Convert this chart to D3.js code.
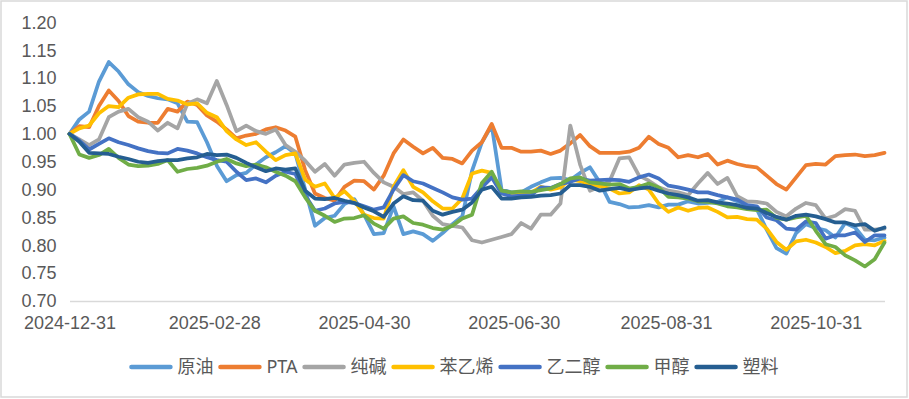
<!DOCTYPE html>
<html>
<head>
<meta charset="utf-8">
<script src="https://cdn.jsdelivr.net/npm/d3@7"></script>
<style>
  body { margin: 0; background: #fff; }
  svg { display: block; font-family: "Noto Sans", "Noto Sans CJK SC", sans-serif; }
</style>
</head>
<body>
<div id="chart"></div>
<script>
// dates (every 4 days)
const dates = [
  "2024-12-31","2025-01-04","2025-01-08","2025-01-12","2025-01-16","2025-01-20","2025-01-24","2025-01-28","2025-02-01","2025-02-05",
  "2025-02-09","2025-02-13","2025-02-17","2025-02-21","2025-02-25","2025-03-01","2025-03-05","2025-03-09","2025-03-13","2025-03-17",
  "2025-03-21","2025-03-25","2025-03-29","2025-04-02","2025-04-06","2025-04-10","2025-04-14","2025-04-18","2025-04-22","2025-04-26",
  "2025-04-30","2025-05-04","2025-05-08","2025-05-12","2025-05-16","2025-05-20","2025-05-24","2025-05-28","2025-06-01","2025-06-05",
  "2025-06-09","2025-06-13","2025-06-17","2025-06-21","2025-06-25","2025-06-29","2025-07-03","2025-07-07","2025-07-11","2025-07-15",
  "2025-07-19","2025-07-23","2025-07-27","2025-07-31","2025-08-04","2025-08-08","2025-08-12","2025-08-16","2025-08-20","2025-08-24",
  "2025-08-28","2025-09-01","2025-09-05","2025-09-09","2025-09-13","2025-09-17","2025-09-21","2025-09-25","2025-09-29","2025-10-03",
  "2025-10-07","2025-10-11","2025-10-15","2025-10-19","2025-10-23","2025-10-27","2025-10-31","2025-11-04","2025-11-08","2025-11-12",
  "2025-11-16","2025-11-20","2025-11-24","2025-11-28"
];

const crude = [1.00,1.026,1.040,1.094,1.129,1.112,1.089,1.075,1.068,1.064,
  1.062,1.055,1.022,1.021,0.985,0.943,0.915,0.926,0.930,0.945,
  0.958,0.967,0.978,0.965,0.900,0.835,0.849,0.853,0.874,0.883,
  0.855,0.820,0.822,0.870,0.820,0.825,0.820,0.808,0.822,0.838,
  0.852,0.934,0.985,1.015,0.900,0.895,0.895,0.905,0.913,0.920,
  0.921,0.917,0.930,0.940,0.913,0.878,0.874,0.868,0.869,0.872,
  0.868,0.873,0.873,0.879,0.875,0.876,0.878,0.886,0.879,0.872,
  0.865,0.828,0.795,0.785,0.822,0.838,0.831,0.827,0.814,0.840,
  0.832,0.810,0.809,0.814];

const pta = [1.00,1.014,1.012,1.050,1.078,1.059,1.032,1.022,1.020,1.020,
  1.045,1.040,1.058,1.052,1.033,1.022,1.008,0.992,0.997,1.000,
  1.008,1.012,1.006,0.995,0.935,0.893,0.885,0.880,0.905,0.916,
  0.915,0.900,0.925,0.965,0.990,0.977,0.965,0.975,0.957,0.955,
  0.947,0.970,0.985,1.018,0.975,0.975,0.968,0.968,0.970,0.964,
  0.970,0.983,0.998,0.978,0.966,0.966,0.966,0.968,0.975,0.995,
  0.982,0.975,0.958,0.962,0.958,0.964,0.945,0.952,0.946,0.942,
  0.940,0.925,0.910,0.900,0.922,0.944,0.946,0.945,0.960,0.962,
  0.963,0.960,0.962,0.966];

const sodaAsh = [1.00,0.990,0.980,0.990,1.030,1.040,1.045,1.030,1.022,1.006,
  1.020,1.010,1.054,1.062,1.055,1.095,1.052,1.005,1.015,1.005,
  1.000,1.008,0.980,0.968,0.952,0.932,0.946,0.925,0.945,0.948,
  0.950,0.930,0.913,0.905,0.892,0.895,0.880,0.853,0.838,0.835,
  0.832,0.809,0.805,0.810,0.815,0.820,0.840,0.830,0.855,0.855,
  0.875,1.015,0.945,0.898,0.905,0.915,0.956,0.958,0.925,0.916,
  0.904,0.898,0.895,0.890,0.911,0.930,0.910,0.921,0.888,0.879,
  0.878,0.875,0.860,0.852,0.866,0.876,0.872,0.848,0.853,0.865,
  0.862,0.828,0.828,0.830];

const styrene = [1.00,1.010,1.015,1.037,1.050,1.048,1.065,1.071,1.072,1.072,
  1.063,1.060,1.053,1.055,1.038,1.030,1.005,0.990,0.980,0.985,
  0.968,0.953,0.962,0.965,0.918,0.905,0.911,0.885,0.897,0.880,
  0.855,0.849,0.848,0.905,0.935,0.905,0.895,0.879,0.866,0.866,
  0.884,0.929,0.934,0.930,0.896,0.894,0.894,0.894,0.905,0.900,
  0.904,0.918,0.915,0.910,0.906,0.902,0.893,0.895,0.908,0.900,
  0.875,0.860,0.868,0.862,0.867,0.868,0.860,0.850,0.851,0.847,
  0.846,0.830,0.806,0.792,0.807,0.810,0.805,0.797,0.786,0.790,
  0.800,0.802,0.800,0.808];

const glycol = [1.00,0.988,0.972,0.982,0.992,0.985,0.980,0.974,0.969,0.966,
  0.965,0.973,0.970,0.965,0.958,0.953,0.950,0.932,0.917,0.920,
  0.913,0.925,0.932,0.928,0.890,0.862,0.866,0.875,0.878,0.876,
  0.870,0.864,0.868,0.900,0.926,0.915,0.911,0.903,0.895,0.886,
  0.882,0.884,0.904,0.922,0.893,0.888,0.889,0.890,0.904,0.903,
  0.910,0.914,0.920,0.916,0.917,0.918,0.917,0.914,0.922,0.927,
  0.920,0.907,0.904,0.900,0.895,0.895,0.890,0.886,0.882,0.872,
  0.870,0.850,0.845,0.830,0.828,0.843,0.840,0.812,0.818,0.818,
  0.823,0.806,0.818,0.818];

const methanol = [1.00,0.963,0.957,0.962,0.973,0.957,0.945,0.942,0.943,0.946,
  0.953,0.932,0.937,0.939,0.943,0.950,0.955,0.947,0.942,0.945,
  0.940,0.932,0.925,0.915,0.886,0.862,0.853,0.842,0.848,0.849,
  0.854,0.839,0.830,0.848,0.852,0.840,0.837,0.831,0.828,0.835,
  0.848,0.855,0.912,0.932,0.898,0.895,0.897,0.896,0.899,0.902,
  0.910,0.920,0.922,0.913,0.911,0.909,0.910,0.902,0.905,0.911,
  0.904,0.887,0.886,0.884,0.879,0.878,0.875,0.870,0.868,0.865,
  0.863,0.864,0.849,0.846,0.850,0.853,0.826,0.802,0.797,0.782,
  0.773,0.762,0.775,0.805];

const plastic = [1.00,0.986,0.966,0.965,0.964,0.959,0.955,0.950,0.948,0.951,
  0.953,0.953,0.956,0.958,0.964,0.962,0.963,0.957,0.948,0.940,
  0.933,0.938,0.936,0.938,0.898,0.884,0.883,0.885,0.880,0.876,
  0.868,0.861,0.851,0.875,0.888,0.881,0.880,0.862,0.855,0.860,
  0.864,0.877,0.900,0.905,0.884,0.884,0.886,0.887,0.889,0.890,
  0.893,0.908,0.908,0.905,0.898,0.901,0.903,0.899,0.902,0.904,
  0.898,0.893,0.890,0.886,0.880,0.881,0.877,0.875,0.872,0.867,
  0.866,0.858,0.851,0.846,0.853,0.855,0.852,0.847,0.841,0.841,
  0.836,0.838,0.826,0.832];

const seriesNames = ["原油", "PTA", "纯碱", "苯乙烯", "乙二醇", "甲醇", "塑料"];
const seriesColors = ["#5B9BD5", "#ED7D31", "#A5A5A5", "#FFC000", "#4472C4", "#70AD47", "#255E91"];
const seriesValues = [crude, pta, sodaAsh, styrene, glycol, methanol, plastic];

const xTicks = ["2024-12-31", "2025-02-28", "2025-04-30", "2025-06-30", "2025-08-31", "2025-10-31"];
const yTicks = [0.70, 0.75, 0.80, 0.85, 0.90, 0.95, 1.00, 1.05, 1.10, 1.15, 1.20];

const width = 909, height = 399;
const margin = {top: 22.5, right: 24.5, bottom: 98, left: 69.5};
const textColor = "#595959";

const parse = d3.timeParse("%Y-%m-%d");
const parsedDates = dates.map(parse);

const svg = d3.select("#chart").append("svg")
    .attr("width", width)
    .attr("height", height);

// chart border
svg.append("rect")
    .attr("x", 1)
    .attr("y", 1)
    .attr("width", width - 3)
    .attr("height", height - 3)
    .attr("fill", "#fff")
    .attr("stroke", "#D9D9D9")
    .attr("stroke-width", 1.5);

const x = d3.scaleTime()
    .domain(d3.extent(parsedDates))
    .range([margin.left, width - margin.right]);

const y = d3.scaleLinear()
    .domain([0.70, 1.20])
    .range([height - margin.bottom, margin.top]);

// x axis
svg.append("g")
    .attr("transform", `translate(0,${height - margin.bottom})`)
    .call(d3.axisBottom(x)
        .tickValues(xTicks.map(parse))
        .tickFormat(d3.timeFormat("%Y-%m-%d"))
        .tickSize(0)
        .tickSizeOuter(0)
        .tickPadding(15))
    .call(g => g.select(".domain")
        .attr("stroke", "#D9D9D9")
        .attr("stroke-width", 1.5))
    .call(g => g.selectAll("text")
        .attr("fill", textColor)
        .style("font-size", "18px"));

// y axis
svg.append("g")
    .attr("transform", `translate(${margin.left},0)`)
    .call(d3.axisLeft(y)
        .tickValues(yTicks)
        .tickFormat(d3.format(".2f"))
        .tickSize(0)
        .tickPadding(13))
    .call(g => g.select(".domain").remove())
    .call(g => g.selectAll("text")
        .attr("fill", textColor)
        .style("font-size", "18px"));

const line = d3.line()
    .x((d, i) => x(parsedDates[i]))
    .y(d => y(d));

svg.append("g")
    .selectAll("path")
    .data(seriesValues)
    .join("path")
    .attr("fill", "none")
    .attr("stroke", (d, i) => seriesColors[i])
    .attr("stroke-width", 3.75)
    .attr("stroke-linejoin", "round")
    .attr("stroke-linecap", "round")
    .attr("d", line);

// legend
const legend = svg.append("g");
const swatchLen = 43;
let pos = 0;
seriesNames.forEach((name, i) => {
    const item = legend.append("g").attr("transform", `translate(${pos},0)`);
    item.append("line")
        .attr("x1", 2)
        .attr("x2", swatchLen - 2)
        .attr("stroke", seriesColors[i])
        .attr("stroke-width", 4.5)
        .attr("stroke-linecap", "round");
    const t = item.append("text")
        .attr("x", swatchLen + 5)
        .attr("dy", "0.35em")
        .attr("fill", textColor)
        .style("font-size", "18px")
        .text(name);
    pos += swatchLen + 5 + t.node().getComputedTextLength() + 5;
});
legend.attr("transform", `translate(${(width - pos) / 2 + 2},367)`);
</script>
</body>
</html>
